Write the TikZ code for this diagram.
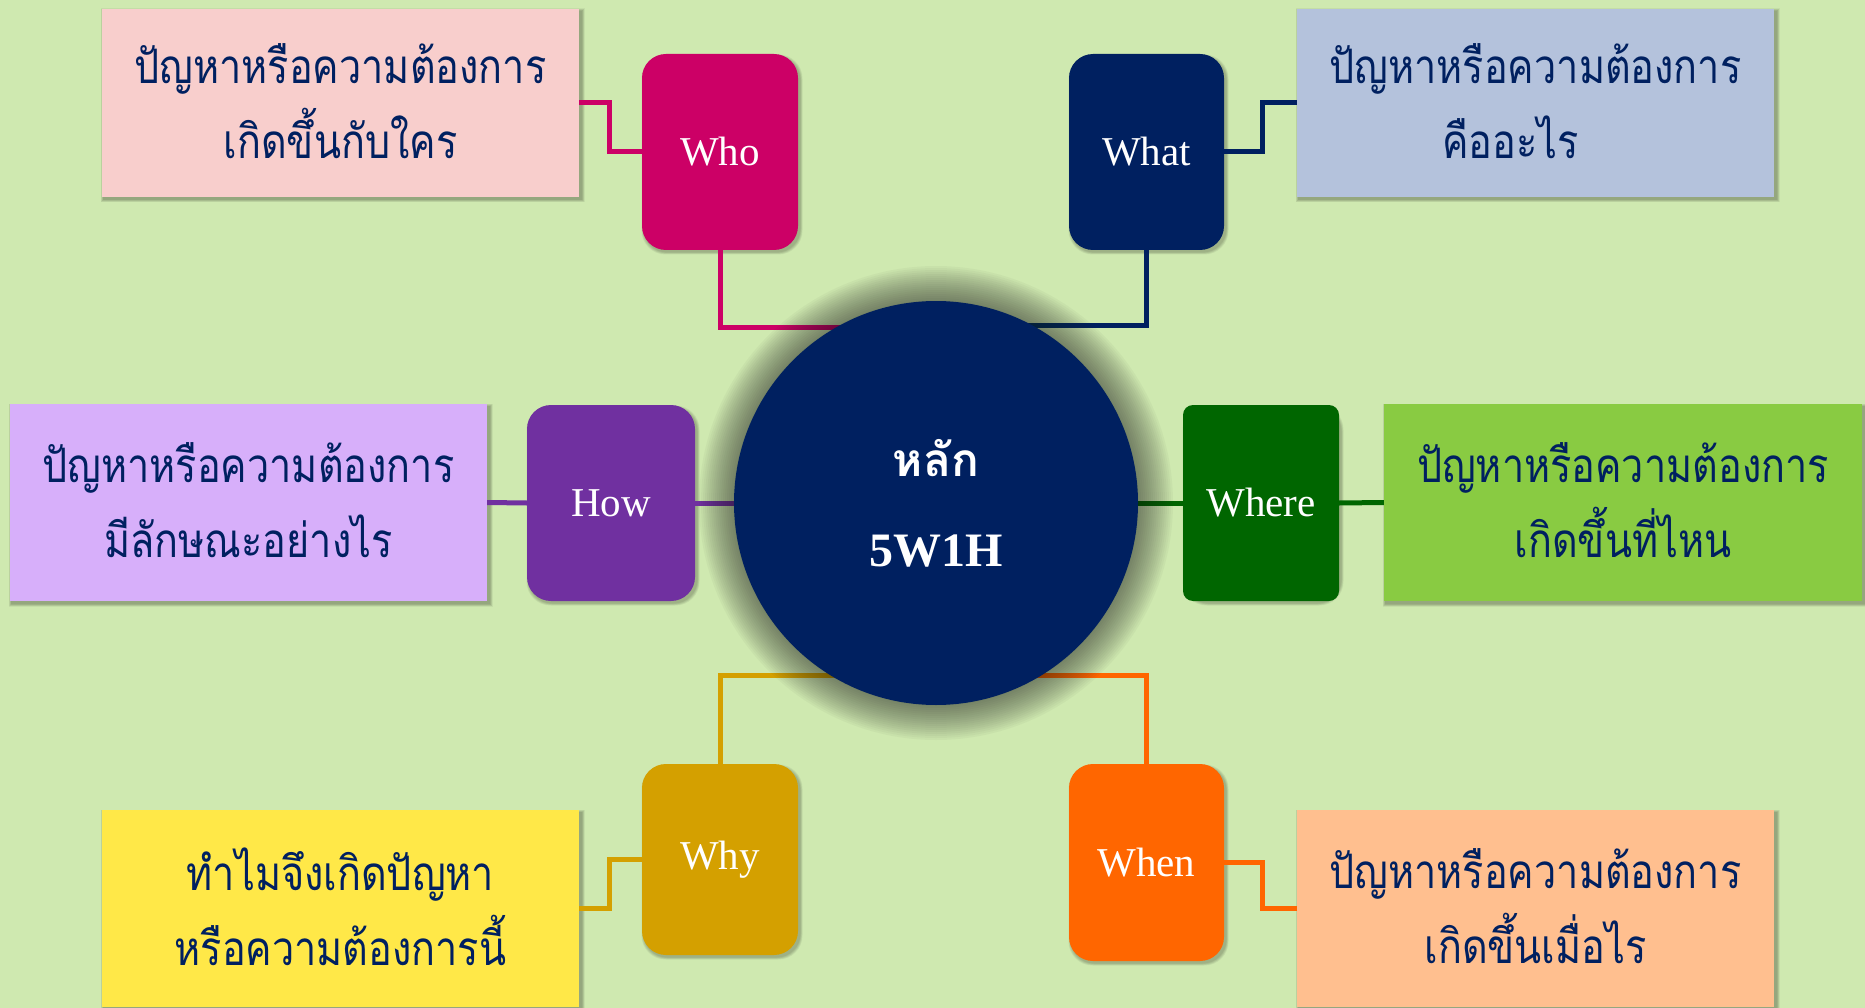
\documentclass[tikz,border=0pt]{standalone}
\usepackage{fontspec}
\setmainfont{Liberation Serif}
\newfontfamily\thaifont[Script=Thai]{Loma}
\usetikzlibrary{calc}
\definecolor{bg}{RGB}{207,233,176}
\definecolor{navy}{RGB}{0,32,96}
\definecolor{cwho}{RGB}{204,0,102}
\definecolor{cwhat}{RGB}{0,32,96}
\definecolor{chow}{RGB}{112,48,160}
\definecolor{cwhere}{RGB}{0,102,0}
\definecolor{cwhy}{RGB}{212,160,0}
\definecolor{cwhen}{RGB}{255,102,0}
\definecolor{twho}{RGB}{248,206,204}
\definecolor{twhat}{RGB}{180,194,220}
\definecolor{thow}{RGB}{215,175,250}
\definecolor{twhere}{RGB}{137,203,66}
\definecolor{twhy}{RGB}{255,232,72}
\definecolor{twhen}{RGB}{255,191,143}
\newcommand{\tl}[1]{\scalebox{0.9}[1.08]{#1}}
\tikzset{
  wbox/.style={draw=none, rounded corners=24pt, minimum width=156pt, minimum height=196pt,
    text=white, font=\fontsize{41}{41}\selectfont, inner sep=0pt},
  tbox/.style={draw=none, minimum width=477pt, minimum height=188pt, inner sep=0pt},
  ttext/.style={text=navy, align=center, font=\thaifont\fontsize{44}{75}\selectfont, inner sep=0pt},
  link/.style={line width=5pt},
}
\begin{document}
\begin{tikzpicture}[x=1pt,y=-1pt]
\fill[bg] (0,0) rectangle (1865,1008);
\useasboundingbox (0,0) rectangle (1865,1008);

% shadows of boxes
\foreach \cx/\cy/\w/\h in {340.5/103/477/188, 1535.5/103/477/188, 248.5/502.5/477/197, 1623/502.5/478/197, 340.5/908.5/477/197, 1535.5/908.5/477/197}{
  \foreach \s in {1,...,6}{
    \fill[black, opacity=0.05] (\cx-\w/2-3+\s*0.5+1, \cy-\h/2-3+\s*0.5+2) rectangle (\cx+\w/2+3-\s*0.5+3, \cy+\h/2+3-\s*0.5+3);
  }
}
\foreach \cx/\cy/\w/\h in {720/152/156/196, 1146.5/152/155/196, 611/503/168/196, 1261/503/156/196, 720/859.5/156/191, 1146.5/862.5/155/197}{
  \foreach \s in {1,...,5}{
    \fill[black, opacity=0.05, rounded corners=24pt] (\cx-\w/2-2+\s*0.5+1, \cy-\h/2-2+\s*0.5+2) rectangle (\cx+\w/2+2-\s*0.5+3, \cy+\h/2+2-\s*0.5+3);
  }
}

\node[tbox, fill=twho] (whot) at (340.5,103) {};
\node[tbox, fill=twhat] (whatt) at (1535.5,103) {};
\node[tbox, fill=thow, minimum height=197pt] (howt) at (248.5,502.5) {};
\node[tbox, fill=twhere, minimum width=478pt, minimum height=197pt] (wheret) at (1623,502.5) {};
\node[tbox, fill=twhy, minimum height=197pt] (whyt) at (340.5,908.5) {};
\node[tbox, fill=twhen, minimum height=197pt] (whent) at (1535.5,908.5) {};

\node[ttext] (whotx) at (340.5,101) {\tl{ปัญหาหรือความต้องการ}\\\tl{เกิดขึ้นกับใคร}};
\node[ttext] (whattx) at (1535.5,101) {\tl{ปัญหาหรือความต้องการ}\\\tl{คืออะไร}\hspace*{50pt}};
\node[ttext] (howtx) at (248.5,500.5) {\tl{ปัญหาหรือความต้องการ}\\\tl{มีลักษณะอย่างไร}};
\node[ttext] (wheretx) at (1623,500.5) {\tl{ปัญหาหรือความต้องการ}\\\tl{เกิดขึ้นที่ไหน}};
\node[ttext] (whytx) at (340.5,906.5) {\tl{ทำไมจึงเกิดปัญหา}\\\tl{หรือความต้องการนี้}};
\node[ttext] (whentx) at (1535.5,906.5) {\tl{ปัญหาหรือความต้องการ}\\\tl{เกิดขึ้นเมื่อไร}};

% W boxes
\node[wbox, fill=cwho] (who) at (720,152) {Who};
\node[wbox, fill=cwhat, minimum width=155pt] (what) at (1146.5,152) {What};
\node[wbox, fill=chow, minimum width=168pt] (how) at (611,503) {How};
\node[wbox, fill=cwhere, rounded corners=10pt] (where) at (1261,503) {Where};
\node[wbox, fill=cwhy, minimum height=191pt] (why) at (720,859.5) {Why};
\node[wbox, fill=cwhen, minimum width=155pt, minimum height=197pt] (when) at (1146.5,862.5) {When};

\coordinate (cc) at (936,503);

% connectors
\draw[link, cwho] (whot.east) -- ++(30,0) |- (who.west);
\draw[link, cwhat] (what.east) -- ++(38,0) |- (whatt.west);
\draw[link, cwhy] (whyt.east) -- ++(30,0) |- (why.west);
\draw[link, cwhen] (when.east) -- ++(38,0) |- (whent.west);
\draw[link, chow] (howt.east) -- (how.west);
\draw[link, cwhere] (where.east) -- (wheret.west);
\draw[link, chow] (how.east) -- (cc);
\draw[link, cwhere] (cc) -- (where.west);
\draw[link, cwho] (who.south) |- ($(cc)+(0,-176)$) -- (cc);
\draw[link, cwhat] (what.south) |- ($(cc)+(0,-178)$) -- (cc);
\draw[link, cwhy] (why.north) |- ($(cc)+(0,172)$) -- (cc);
\draw[link, cwhen] (when.north) |- ($(cc)+(0,172)$) -- (cc);

% circle shadow
\foreach \r in {1,...,18}{
  \fill[black!75!gray, opacity=0.035] (cc) circle ({201+2*\r});
}
\node[circle, fill=navy, minimum size=404pt, inner sep=0pt] (c) at (cc) {};
\node[text=white, font=\thaifont\bfseries\fontsize{46}{46}\selectfont, anchor=base] (lak) at (936,476) {หลัก};
\node[text=white, font=\bfseries\fontsize{48}{48}\selectfont, anchor=base] (fw) at (936,566) {5W1H};
\end{tikzpicture}
\end{document}
